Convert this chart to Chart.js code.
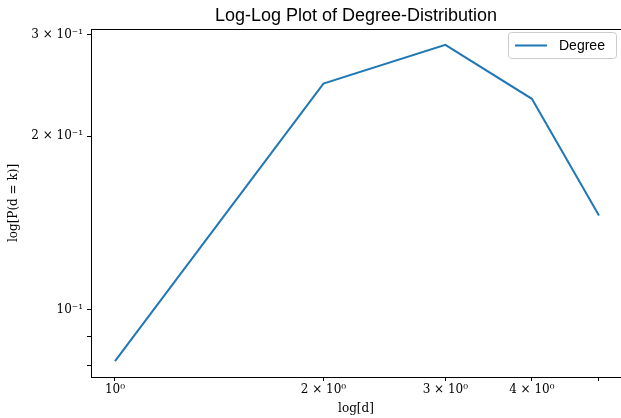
<!DOCTYPE html>
<html lang="en">
<head>
    <meta charset="UTF-8">
    <title>Log-Log Plot of Degree-Distribution</title>
    <script src="https://cdn.jsdelivr.net/npm/chart.js"></script>
    <style>
        body { margin: 0; padding: 0; background: #fff; }
        .chart-container { width: 621px; height: 418px; }
    </style>
</head>
<body>
    <div class="chart-container">
        <canvas id="degreeChart" width="621" height="418"></canvas>
    </div>

    <script>
        // degree k and estimated probability P(d = k)
        const degrees = [1, 2, 3, 4, 5];
        const probs = [0.0815, 0.2468, 0.288, 0.2322, 0.1458];

        const xTicks = [1, 2, 3, 4, 5];
        const xTickLabels = { 1: '10⁰', 2: '2 × 10⁰', 3: '3 × 10⁰', 4: '4 × 10⁰', 5: '' };
        const yTicks = [0.08, 0.09, 0.1, 0.2, 0.3];
        const yTickLabels = { 0.08: '', 0.09: '', 0.1: '10⁻¹', 0.2: '2 × 10⁻¹', 0.3: '3 × 10⁻¹' };

        const serif = "'DejaVu Serif', 'Liberation Serif', serif";
        const sans = "'Liberation Sans', Arial, sans-serif";

        // frame, title over the axes and legend box inside the plot
        const decorations = {
            id: 'decorations',
            afterDraw(chart) {
                const ctx = chart.ctx;
                const a = chart.chartArea;
                ctx.save();
                // full box round the axes
                ctx.strokeStyle = '#000';
                ctx.lineWidth = 1;
                ctx.strokeRect(a.left + 0.5, a.top + 0.5, a.right - a.left, a.bottom - a.top);

                // title centred on the axes
                ctx.fillStyle = '#000';
                ctx.font = '18px ' + sans;
                ctx.textAlign = 'center';
                ctx.textBaseline = 'alphabetic';
                ctx.fillText('Log-Log Plot of Degree-Distribution', (a.left + a.right) / 2, 21);

                // legend
                const x = a.right - 113, y = a.top + 3, w = 108, h = 26;
                ctx.fillStyle = 'rgba(255,255,255,0.8)';
                ctx.strokeStyle = '#cccccc';
                ctx.beginPath();
                ctx.roundRect(x + 0.5, y + 0.5, w, h, 3);
                ctx.fill();
                ctx.stroke();
                ctx.strokeStyle = '#1f77b4';
                ctx.lineWidth = 2;
                ctx.beginPath();
                ctx.moveTo(x + 7, y + 13.5);
                ctx.lineTo(x + 39, y + 13.5);
                ctx.stroke();
                ctx.fillStyle = '#000';
                ctx.font = '14px ' + sans;
                ctx.textAlign = 'left';
                ctx.textBaseline = 'middle';
                ctx.fillText('Degree', x + 51, y + 14);
                ctx.restore();
            }
        };

        const ctx = document.getElementById('degreeChart').getContext('2d');

        new Chart(ctx, {
            type: 'line',
            data: {
                datasets: [{
                    label: 'Degree',
                    data: degrees.map((d, i) => ({ x: d, y: probs[i] })),
                    borderColor: '#1f77b4',
                    borderWidth: 2,
                    pointRadius: 0,
                    fill: false,
                    tension: 0
                }]
            },
            options: {
                responsive: false,
                animation: false,
                layout: { padding: { top: 29, right: 0, left: 0, bottom: 0 } },
                plugins: {
                    legend: { display: false },
                    tooltip: { enabled: false },
                    title: { display: false }
                },
                scales: {
                    x: {
                        type: 'logarithmic',
                        min: 0.9233,
                        max: 5.38,
                        afterBuildTicks: s => { s.ticks = xTicks.map(v => ({ value: v })); },
                        afterFit: s => { s.height = 41; },
                        grid: { drawOnChartArea: false, color: '#000', tickLength: 4, tickWidth: 1 },
                        border: { color: '#000', width: 1 },
                        ticks: {
                            color: '#000',
                            font: { family: serif, size: 12 },
                            padding: 2,
                            maxRotation: 0,
                            autoSkip: false,
                            callback: v => xTickLabels[v] ?? ''
                        },
                        title: {
                            display: true,
                            text: 'log[d]',
                            color: '#000',
                            font: { family: serif, size: 12 },
                            padding: { top: 0, bottom: 2 }
                        }
                    },
                    y: {
                        type: 'logarithmic',
                        min: 0.0765,
                        max: 0.3068,
                        afterBuildTicks: s => { s.ticks = yTicks.map(v => ({ value: v })); },
                        afterFit: s => { s.width = 91; },
                        grid: { drawOnChartArea: false, color: '#000', tickLength: 4, tickWidth: 1 },
                        border: { color: '#000', width: 1 },
                        ticks: {
                            color: '#000',
                            font: { family: serif, size: 12 },
                            padding: 4,
                            autoSkip: false,
                            callback: v => yTickLabels[v] ?? ''
                        },
                        title: {
                            display: true,
                            text: 'log[P(d = k)]',
                            color: '#000',
                            font: { family: serif, size: 12 },
                            padding: { top: 7, bottom: 0 }
                        }
                    }
                }
            },
            plugins: [decorations]
        });
    </script>
</body>
</html>
